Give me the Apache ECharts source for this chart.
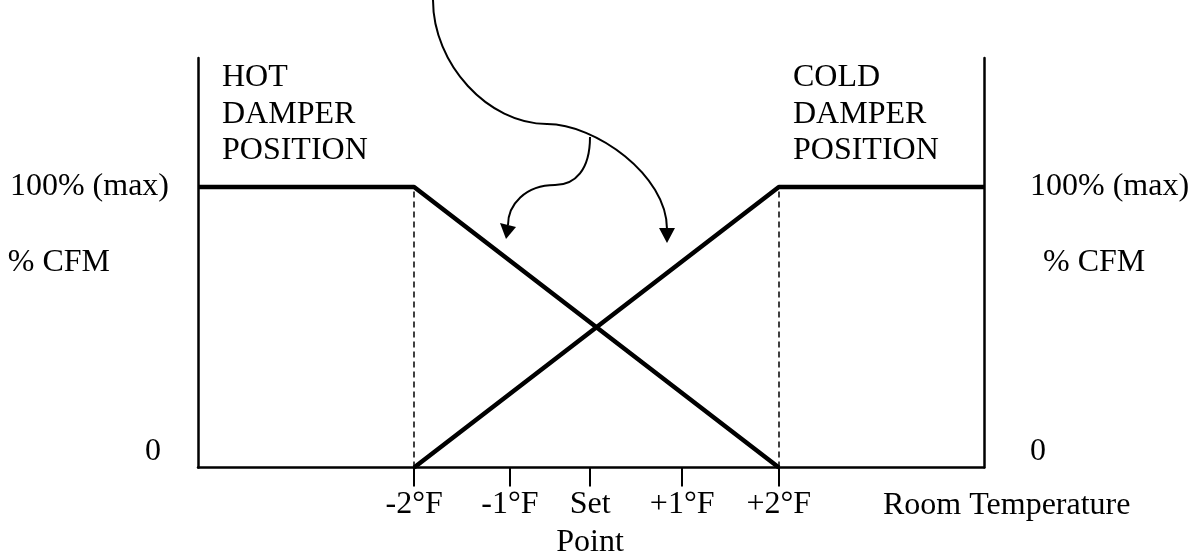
<!DOCTYPE html>
<html>
<head>
<meta charset="utf-8">
<title>Hot / cold damper position</title>
<script src="https://cdn.jsdelivr.net/npm/echarts@6/dist/echarts.min.js"></script>
<style>
  html, body { margin: 0; padding: 0; background: #fff; }
  #chart { width: 1194px; height: 556px; }
</style>
</head>
<body>
<div id="chart"></div>
<script>
// room temperature offset from set point (°F); ticks are where the drawing puts them
const tickPos = [-2, -0.95, -0.07, 0.94, 2]
const tickLabels = ['-2°F', '-1°F', 'Set\nPoint', '+1°F', '+2°F']
const tempMin = -4.37
const tempMax = 4.25

// damper position, % CFM
const hotDamper = [[tempMin, 100], [-2, 100], [2, 0]]
const coldDamper = [[-2, 0], [2, 100], [tempMax, 100]]
const guideX = [-2, 2]
const cfmTicks = [0, 100]
const cfmLabels = ['0', '100% (max)']
const cfmMax = 146

const FONT = '"Liberation Serif", "Times New Roman", serif'
const INK = '#000'

function nearest(arr, v) {
  let best = 0
  arr.forEach((a, i) => { if (Math.abs(a - v) < Math.abs(arr[best] - v)) best = i })
  return best
}

function cfmFormatter(v) {
  const i = nearest(cfmTicks, v)
  return cfmTicks[i] === 0 ? '{lo|' + cfmLabels[i] + '}' : cfmLabels[i]
}

// zeroPad pushes the "0" label sideways (left axis only)
function yAxisFor(side, nameGap, labelMargin, lift, zeroPad) {
  return {
    type: 'value',
    position: side,
    min: 0,
    max: cfmMax,
    name: '% CFM',
    nameLocation: 'middle',
    nameRotate: 0,
    nameGap: nameGap,
    nameMoveOverlap: false,
    nameTextStyle: { fontSize: 32, fontFamily: FONT, color: INK, padding: [0, 0, lift, 0] },
    axisLine: { show: true, onZero: false, lineStyle: { color: INK, width: 2.5 } },
    axisTick: { show: false },
    splitLine: { show: false },
    axisLabel: {
      customValues: cfmTicks,
      margin: labelMargin,
      fontSize: 32,
      fontFamily: FONT,
      color: INK,
      formatter: cfmFormatter,
      rich: { lo: { padding: [0, zeroPad, 32, 0], fontSize: 32, fontFamily: FONT, color: INK } }
    }
  }
}

function text(str, x, y, align) {
  return {
    type: 'text', x: x, y: y, silent: true,
    style: {
      text: str, fontSize: 32, fontFamily: FONT, fill: INK,
      align: align || 'left', verticalAlign: 'middle', lineHeight: 36.5
    }
  }
}

function curve(x1, y1, cpx1, cpy1, cpx2, cpy2, x2, y2) {
  return {
    type: 'bezierCurve', silent: true,
    shape: { x1, y1, cpx1, cpy1, cpx2, cpy2, x2, y2 },
    style: { stroke: INK, lineWidth: 2, fill: null }
  }
}

function arrowHead(points) {
  return { type: 'polygon', silent: true, shape: { points: points }, style: { fill: INK } }
}

const myChart = echarts.init(document.getElementById('chart'))

myChart.setOption({
  animation: false,
  backgroundColor: '#fff',
  textStyle: { fontFamily: FONT, color: INK },
  grid: { left: 198, right: 210, top: 58, bottom: 88.5, containLabel: false, outerBoundsMode: 'none' },
  xAxis: {
    type: 'value',
    min: tempMin,
    max: tempMax,
    axisLine: { show: true, onZero: false, lineStyle: { color: INK, width: 2.5 } },
    axisTick: { show: true, customValues: tickPos, length: 19, lineStyle: { color: INK, width: 2 } },
    axisLabel: {
      customValues: tickPos,
      margin: 18,
      lineHeight: 38,
      fontSize: 32,
      fontFamily: FONT,
      color: INK,
      formatter: v => tickLabels[nearest(tickPos, v)]
    },
    splitLine: { show: false }
  },
  yAxis: [yAxisFor('left', 88, 29, 8, 8), yAxisFor('right', 59, 46, 14, 0)],
  series: [
    {
      name: 'Hot damper',
      type: 'line',
      data: hotDamper,
      symbol: 'none',
      lineStyle: { color: INK, width: 4.5 },
      markLine: {
        silent: true,
        symbol: 'none',
        label: { show: false },
        lineStyle: { color: INK, width: 1.5, type: [6, 4] },
        data: guideX.map(x => [{ coord: [x, 0] }, { coord: [x, 100] }])
      }
    },
    {
      name: 'Cold damper',
      type: 'line',
      data: coldDamper,
      symbol: 'none',
      lineStyle: { color: INK, width: 4.5 }
    }
  ],
  graphic: [
    text('HOT\nDAMPER\nPOSITION', 222, 114.5),
    text('COLD\nDAMPER\nPOSITION', 793, 114.5),
    text('Room Temperature', 883, 506),
    // pointer arrows from the top of the page
    curve(433, 0, 433, 64, 488, 124, 547, 124),
    curve(547, 124, 595, 124, 667, 175, 667, 229),
    arrowHead([[659, 228], [675, 228], [667, 243]]),
    curve(590, 137, 590, 170, 575, 185, 555, 185),
    curve(555, 185, 525, 185, 508, 205, 508, 225),
    arrowHead([[500, 223], [516, 227], [506, 239]])
  ]
})

window.onresize = function () {
  myChart.resize()
}
</script>
</body>
</html>
